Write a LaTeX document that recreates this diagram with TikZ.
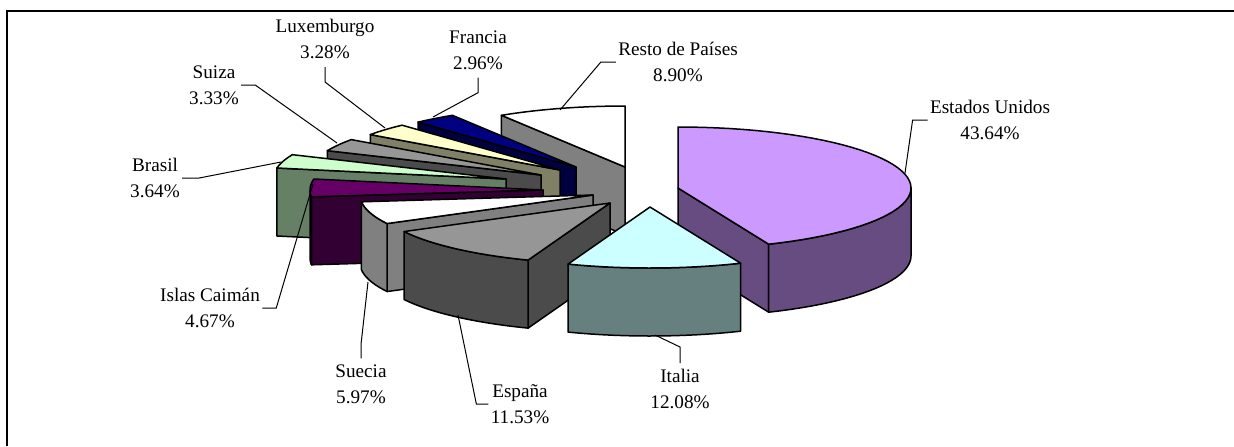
\documentclass[tikz,border=0pt]{standalone}
\usepackage{fontspec}
\setmainfont{Liberation Serif}
\definecolor{usa}{HTML}{CC99FF}
\definecolor{italia}{HTML}{CCFFFF}
\definecolor{espana}{HTML}{969696}
\definecolor{suecia}{HTML}{FFFFFF}
\definecolor{caiman}{HTML}{660066}
\definecolor{brasil}{HTML}{CCFFCC}
\definecolor{suiza}{HTML}{969696}
\definecolor{luxem}{HTML}{FFFFCC}
\definecolor{francia}{HTML}{000080}
\definecolor{resto}{HTML}{FFFFFF}
\begin{document}
\begin{tikzpicture}[x=0.5pt,y=-0.5pt,
    face/.style={draw=black,line width=0.75pt,line join=round},
    lbl/.style={align=center,inner sep=1pt,font=\fontsize{9.6}{12.8}\selectfont},
    leader/.style={line width=0.5pt}]
  \useasboundingbox (0,0) rectangle (1234,446);
  \draw[line width=1pt] (7,446) -- (7,11) -- (1234,11);
  % Resto de Paises
  \begin{scope}[shift={(625,167)}]
    \filldraw[face,fill=resto!50!black] (0,0) -- ({233*cos(122.04)},{-61*sin(122.04)}) -- ++(0,68) -- (0,68) -- cycle;
    \filldraw[face,fill=resto] (0,0) -- plot[domain=90:122.04,samples=12] ({233*cos(\x)},{-61*sin(\x)}) -- cycle;
  \end{scope}
  % Francia
  \begin{scope}[shift={(576,167)}]
    \filldraw[face,fill=francia!50!black] (0,0) -- ({233*cos(132.7)},{-61*sin(132.7)}) -- ++(0,68) -- (0,68) -- cycle;
    \filldraw[face,fill=francia] (0,0) -- plot[domain=122.04:132.7,samples=6] ({233*cos(\x)},{-61*sin(\x)}) -- cycle;
  \end{scope}
  % Luxemburgo
  \begin{scope}[shift={(560,170)}]
    \filldraw[face,fill=luxem!50!black] (0,0) -- ({233*cos(144.51)},{-61*sin(144.51)}) -- ++(0,68) -- (0,68) -- cycle;
    \filldraw[face,fill=luxem] (0,0) -- plot[domain=132.7:144.51,samples=6] ({233*cos(\x)},{-61*sin(\x)}) -- cycle;
  \end{scope}
  % Suiza
  \begin{scope}[shift={(541,175)}]
    \filldraw[face,fill=suiza!50!black] (0,0) -- ({233*cos(156.5)},{-61*sin(156.5)}) -- ++(0,68) -- (0,68) -- cycle;
    \filldraw[face,fill=suiza] (0,0) -- plot[domain=144.51:156.5,samples=6] ({233*cos(\x)},{-61*sin(\x)}) -- cycle;
  \end{scope}
  % Brasil
  \begin{scope}[shift={(506,179)}]
    \filldraw[face,fill=brasil!50!black] (0,0) -- ({233*cos(169.6)},{-61*sin(169.6)}) -- ++(0,68) -- (0,68) -- cycle;
    \filldraw[face,fill=brasil] (0,0) -- plot[domain=156.5:169.6,samples=6] ({233*cos(\x)},{-61*sin(\x)}) -- cycle;
  \end{scope}
  % Islas Caiman
  \begin{scope}[shift={(543,190)}]
    \filldraw[face,fill=caiman!50!black] (0,0) -- ({233*cos(186.41)},{-61*sin(186.41)}) -- ++(0,68) -- (0,68) -- cycle;
    \filldraw[face,fill=caiman!50!black] plot[domain=180:186.41,samples=4] ({233*cos(\x)},{-61*sin(\x)}) -- plot[domain=186.41:180,samples=4] ({233*cos(\x)},{68-61*sin(\x)}) -- cycle;
    \filldraw[face,fill=caiman] (0,0) -- plot[domain=169.6:186.41,samples=8] ({233*cos(\x)},{-61*sin(\x)}) -- cycle;
  \end{scope}
  % Suecia
  \begin{scope}[shift={(593,195)}]
    \filldraw[face,fill=suecia!50!black] (0,0) -- ({233*cos(-152.1)},{-61*sin(-152.1)}) -- ++(0,68) -- (0,68) -- cycle;
    \filldraw[face,fill=suecia!50!black] plot[domain=-173.59:-152.1,samples=10] ({233*cos(\x)},{-61*sin(\x)}) -- plot[domain=-152.1:-173.59,samples=10] ({233*cos(\x)},{68-61*sin(\x)}) -- cycle;
    \filldraw[face,fill=suecia] (0,0) -- plot[domain=-173.59:-152.1,samples=10] ({233*cos(\x)},{-61*sin(\x)}) -- cycle;
  \end{scope}
  % Espana
  \begin{scope}[shift={(610,203)}]
    \filldraw[face,fill=espana!50!black] (0,0) -- ({233*cos(-110.59)},{-61*sin(-110.59)}) -- ++(0,68) -- (0,68) -- cycle;
    \filldraw[face,fill=espana!50!black] plot[domain=-152.1:-110.59,samples=16] ({233*cos(\x)},{-61*sin(\x)}) -- plot[domain=-110.59:-152.1,samples=16] ({233*cos(\x)},{68-61*sin(\x)}) -- cycle;
    \filldraw[face,fill=espana] (0,0) -- plot[domain=-152.1:-110.59,samples=16] ({233*cos(\x)},{-61*sin(\x)}) -- cycle;
  \end{scope}
  % Estados Unidos
  \begin{scope}[shift={(678,188)}]
    \filldraw[face,fill=usa!50!black] (0,0) -- ({233*cos(-67.1)},{-61*sin(-67.1)}) -- ++(0,68) -- (0,68) -- cycle;
    \filldraw[face,fill=usa!50!black] plot[domain=-67.1:0,samples=24] ({233*cos(\x)},{-61*sin(\x)}) -- plot[domain=0:-67.1,samples=24] ({233*cos(\x)},{68-61*sin(\x)}) -- cycle;
    \filldraw[face,fill=usa] (0,0) -- plot[domain=-67.1:90,samples=50] ({233*cos(\x)},{-61*sin(\x)}) -- cycle;
  \end{scope}
  % Italia
  \begin{scope}[shift={(650,207)}]
    \filldraw[face,fill=italia!50!black] plot[domain=-110.59:-67.1,samples=16] ({233*cos(\x)},{-61*sin(\x)}) -- plot[domain=-67.1:-110.59,samples=16] ({233*cos(\x)},{68-61*sin(\x)}) -- cycle;
    \filldraw[face,fill=italia] (0,0) -- plot[domain=-110.59:-67.1,samples=16] ({233*cos(\x)},{-61*sin(\x)}) -- cycle;
  \end{scope}
  % leader ends
  \coordinate (usaend) at (905,173);
  \coordinate (italiaend) at (655,335);
  \coordinate (espanaend) at (458,315);
  \coordinate (sueciaend) at (368,282);
  \coordinate (caimanend) at (313,184);
  \coordinate (brasilend) at (281,162);
  \coordinate (suizaend) at (337,143);
  \coordinate (luxemend) at (385,128);
  \coordinate (franciaend) at (433,117);
  \coordinate (restoend) at (560,110);
  % labels
  \node[lbl] (lbusa) at (990,120) {Estados Unidos\\43.64\%};
  \node[lbl] (lbitalia) at (680,389) {Italia\\12.08\%};
  \node[lbl] (lbespana) at (520,404) {España\\11.53\%};
  \node[lbl] (lbsuecia) at (361,384) {Suecia\\5.97\%};
  \node[lbl] (lbcaiman) at (210,308) {Islas Caimán\\4.67\%};
  \node[lbl] (lbbrasil) at (155,178) {Brasil\\3.64\%};
  \node[lbl] (lbsuiza) at (214,85) {Suiza\\3.33\%};
  \node[lbl] (lbluxem) at (325,39) {Luxemburgo\\3.28\%};
  \node[lbl] (lbfrancia) at (478,50) {Francia\\2.96\%};
  \node[lbl] (lbresto) at (678,62) {Resto de Países\\8.90\%};
  \begin{scope}[leader]
    \draw (lbusa.west) -- ++(-15,0) -- (usaend);
    \draw ([yshift=2pt]lbitalia.north) -- ++(0,-16) -- (italiaend);
    \draw (lbespana.west) -- ++(-12,0) -- (espanaend);
    \draw ([yshift=2pt]lbsuecia.north) -- ++(0,-14) -- (sueciaend);
    \draw (lbcaiman.east) -- ++(14,0) -- (caimanend);
    \draw (lbbrasil.east) -- ++(17,0) -- (brasilend);
    \draw (lbsuiza.east) -- ++(14,0) -- (suizaend);
    \draw ([yshift=-3pt]lbluxem.south) -- ++(0,15) -- (luxemend);
    \draw ([yshift=-3pt]lbfrancia.south) -- ++(0,15) -- (franciaend);
    \draw (lbresto.west) -- ++(-15,0) -- (restoend);
  \end{scope}
\end{tikzpicture}
\end{document}
